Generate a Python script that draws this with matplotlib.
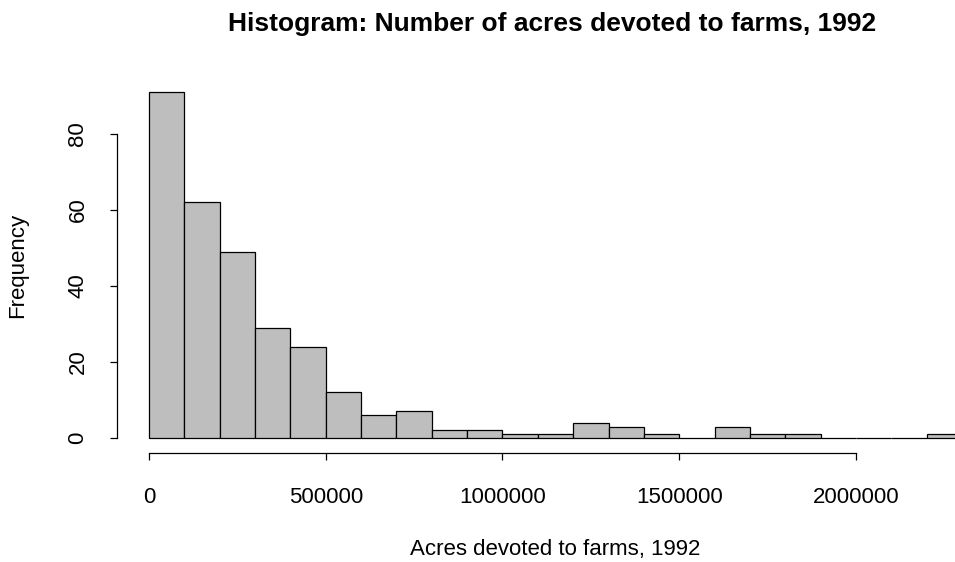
import matplotlib
matplotlib.use("Agg")
import matplotlib.pyplot as plt

plt.rcParams['font.family'] = ['Liberation Sans', 'DejaVu Sans']

breaks = [i * 100000 for i in range(24)]
counts = [91, 62, 49, 29, 24, 12, 6, 7, 2, 2, 1, 1, 4, 3, 1, 0, 3, 1, 1, 0, 0, 0, 1]
xticks = [0, 500000, 1000000, 1500000, 2000000]
xticklabels = ["0", "500000", "1000000", "1500000", "2000000"]
yticks = [0, 20, 40, 60, 80]
yticklabels = ["0", "20", "40", "60", "80"]

W, H = 955, 562
fig = plt.figure(figsize=(W / 100, H / 100), dpi=100)

left_px, right_px = 116.5, 994.5
top_px, bottom_px = 78.4, 451.8
ax = fig.add_axes([left_px / W, 1 - bottom_px / H,
                   (right_px - left_px) / W, (bottom_px - top_px) / H])

lefts = breaks[:-1]
widths = [breaks[i + 1] - breaks[i] for i in range(len(counts))]
ax.bar(lefts, counts, width=widths, align='edge', color='#BEBEBE',
       edgecolor='black', linewidth=0.9)

xr = breaks[-1] - breaks[0]
ax.set_xlim(breaks[0] - 0.04 * xr, breaks[-1] + 0.04 * xr)
ymax = max(counts)
ax.set_ylim(-0.04 * ymax, ymax * 1.04)

for s in ['top', 'right']:
    ax.spines[s].set_visible(False)
ax.spines['bottom'].set_bounds(xticks[0], xticks[-1])
ax.spines['left'].set_bounds(yticks[0], yticks[-1])
ax.spines['bottom'].set_position(('outward', 1))
for s in ['bottom', 'left']:
    ax.spines[s].set_linewidth(0.9)

ax.set_xticks(xticks)
ax.set_xticklabels(xticklabels)
ax.set_yticks(yticks)
ax.set_yticklabels(yticklabels, rotation=90, va='center')
ax.tick_params(axis='both', direction='out', length=5.2, width=0.9,
               labelsize=16, colors='black')
ax.tick_params(axis='x', pad=19.2)
ax.tick_params(axis='y', pad=15)

ax.set_xlabel("Acres devoted to farms, 1992", fontsize=16, labelpad=22.5)
ax.set_ylabel("Frequency", fontsize=16, labelpad=28)

fig.text(552 / W, 1 - 24.5 / H, "Histogram: Number of acres devoted to farms, 1992",
         ha='center', va='center', fontsize=19, fontweight='bold')

fig.savefig("out.png", dpi=100)
